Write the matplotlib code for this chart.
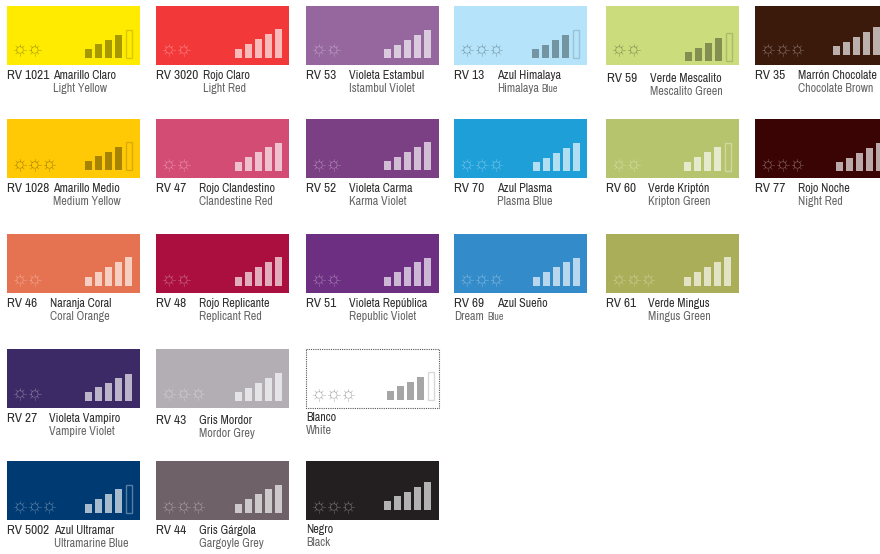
import matplotlib
matplotlib.use("Agg")
import matplotlib.pyplot as plt
from matplotlib import font_manager as fm
from matplotlib.patches import Circle, Rectangle

# data, in reading order (row by row)
codes = ["RV 1021", "RV 3020", "RV 53", "RV 13", "RV 59", "RV 35",
         "RV 1028", "RV 47", "RV 52", "RV 70", "RV 60", "RV 77",
         "RV 46", "RV 48", "RV 51", "RV 69", "RV 61",
         "RV 27", "RV 43", "",
         "RV 5002", "RV 44", ""]
names_es = ["Amarillo Claro", "Rojo Claro", "Violeta Estambul", "Azul Himalaya", "Verde Mescalito", "Marrón Chocolate",
            "Amarillo Medio", "Rojo Clandestino", "Violeta Carma", "Azul Plasma", "Verde Kriptón", "Rojo Noche",
            "Naranja Coral", "Rojo Replicante", "Violeta República", "Azul Sueño", "Verde Mingus",
            "Violeta Vampiro", "Gris Mordor", "Blanco",
            "Azul Ultramar", "Gris Gárgola", "Negro"]
names_en = ["Light Yellow", "Light Red", "Istambul Violet", "Himalaya", "Mescalito Green", "Chocolate Brown",
            "Medium Yellow", "Clandestine Red", "Karma Violet", "Plasma Blue", "Kripton Green", "Night Red",
            "Coral Orange", "Replicant Red", "Republic Violet", "Dream", "Mingus Green",
            "Vampire Violet", "Mordor Grey", "White",
            "Ultramarine Blue", "Gargoyle Grey", "Black"]
small_suffix = {"Himalaya": "Blue", "Dream": "Blue"}
sun_counts = [2, 2, 2, 3, 2, 3,
              3, 2, 2, 3, 2, 3,
              2, 2, 2, 3, 3,
              2, 3, 3,
              3, 3, 3]
bar_heights = [[9, 14, 18, 23, 28], [9, 14, 19, 24, 29], [9, 13, 18, 23, 28], [9, 13, 18, 23, 28], [9, 13, 18, 23, 28], [9, 13, 18, 23, 28],
               [9, 14, 18, 23, 28], [9, 14, 19, 24, 28], [9, 13, 18, 23, 28], [9, 13, 18, 23, 28], [9, 14, 19, 24, 28], [9, 13, 18, 23, 28],
               [9, 14, 19, 24, 29], [9, 14, 19, 24, 29], [9, 14, 19, 24, 28], [9, 14, 19, 24, 28], [9, 14, 19, 24, 29],
               [9, 14, 18, 23, 27], [9, 13, 18, 23, 28], [9, 14, 18, 23, 28],
               [9, 14, 19, 24, 28], [9, 14, 19, 24, 28], [9, 14, 18, 23, 28]]
last_bar_empty = [True, False, False, True, True, False,
                  True, False, False, False, True, False,
                  False, False, False, False, False,
                  False, False, True,
                  True, False, False]

# styles
fill_colors = ["#FFEB00", "#F23838", "#96669F", "#B5E4FA", "#CADC7C", "#3B1A0B",
               "#FFCA05", "#D34C74", "#7B3F83", "#1E9FD8", "#B7C46E", "#3A0404",
               "#E57250", "#AB0F40", "#6C2F82", "#338BCA", "#ABAE58",
               "#3C2A66", "#B3AEB4", "#FFFFFF",
               "#003A72", "#6E6268", "#231F20"]
dark_marks = [True, False, False, True, True, False,
              True, False, False, False, False, False,
              False, False, False, False, False,
              False, False, True,
              False, False, False]

# layout, pixels in the 880x554 picture
swatch_x = [7, 156, 306, 454, 606, 755,
            7, 156, 306, 454, 606, 755,
            7, 156, 306, 454, 606,
            7, 156, 306,
            7, 156, 306]
swatch_y = [6] * 6 + [119] * 6 + [234] * 5 + [349] * 3 + [461] * 3
bar_x = [85, 235, 384, 532, 685, 833,
         85, 235, 384, 533, 684, 836,
         85, 235, 384, 533, 684,
         85, 235, 387,
         85, 235, 384]
bar_base = [58, 58, 58, 58, 61, 55,
            170, 171, 170, 171, 171, 171,
            286, 286, 286, 286, 286,
            401, 401, 400,
            513, 513, 510]
sun_y = [50] * 6 + [165] * 6 + [280] * 5 + [394, 394, 395] + [507] * 3
code_x = [7, 156, 306, 454, 607, 755,
          7, 156, 306, 454, 606, 755,
          7, 156, 306, 454, 606,
          7, 156, 306,
          7, 156, 306]
name_x = [53, 203, 349, 497, 650, 798,
          53, 199, 349, 497, 648, 798,
          49.5, 199, 349, 497, 648,
          49, 199, 306,
          54, 199, 306]
en_x = list(name_x)
en_x[15] = 454.5
# text baselines
name_y = [79, 79, 79, 79, 82, 79,
          192, 192, 192, 192, 192, 192,
          307, 307, 307, 307, 307,
          422, 424, 421,
          534, 534, 533]
SWATCH_W = 133
SWATCH_H = 59

# Archivo Narrow is on this machine though not promised; fall back to smaller Liberation Sans
installed = {f.name for f in fm.fontManager.ttflist}
if "Archivo Narrow" in installed:
    TEXT_FONT = ["Archivo Narrow", "Liberation Sans", "DejaVu Sans"]
    CODE_SIZE, NAME_SIZE, EN_SIZE, SUFFIX_SIZE = 9.6, 8.7, 8.7, 7.2
else:
    TEXT_FONT = ["Liberation Sans", "DejaVu Sans"]
    CODE_SIZE, NAME_SIZE, EN_SIZE, SUFFIX_SIZE = 7.8, 7.2, 7.2, 6.2


def draw_sun(ax, cx, cy, color, alpha):
    ax.add_patch(Circle((cx, cy), 3.3, fill=False, ec=color, lw=0.6, alpha=alpha))
    for dx, dy in [(1, 0), (-1, 0), (0, 1), (0, -1), (0.7, 0.7), (-0.7, 0.7), (0.7, -0.7), (-0.7, -0.7)]:
        ax.plot([cx + dx * 3.6, cx + dx * 5.8], [cy + dy * 3.6, cy + dy * 5.8],
                color=color, lw=0.5, alpha=alpha)


fig = plt.figure(figsize=(8.8, 5.54), dpi=100)
ax = fig.add_axes([0, 0, 1, 1])
ax.set_xlim(0, 880)
ax.set_ylim(554, 0)
ax.axis("off")

for i, code in enumerate(codes):
    x0 = swatch_x[i]
    y0 = swatch_y[i]
    if fill_colors[i] == "#FFFFFF":
        ax.add_patch(Rectangle((x0, y0), SWATCH_W, SWATCH_H, fc="white", ec="#555555", lw=0.8, ls=(0, (1, 1))))
    else:
        ax.add_patch(Rectangle((x0, y0), SWATCH_W, SWATCH_H, fc=fill_colors[i], ec="none"))

    tone = "black" if dark_marks[i] else "white"
    bar_alpha = 0.35 if dark_marks[i] else 0.66
    outline_alpha = 0.15 if dark_marks[i] else 0.35

    for j in range(sun_counts[i]):
        draw_sun(ax, x0 + 13 + 14.7 * j, sun_y[i], tone, 0.25 if dark_marks[i] else 0.28)

    for j, h in enumerate(bar_heights[i]):
        bx = bar_x[i] + 10 * j
        if j == 4 and last_bar_empty[i]:
            ax.add_patch(Rectangle((bx + 0.5, bar_base[i] - h), 6, h, fill=False, ec=tone, lw=1.0, alpha=outline_alpha))
        else:
            ax.bar(bx, h, width=7, bottom=bar_base[i] - h, align="edge", color=tone, alpha=bar_alpha, lw=0)

    if code:
        ax.text(code_x[i], name_y[i], code, family=TEXT_FONT, fontsize=CODE_SIZE, color="#2E2E2E", va="baseline", ha="left")
    ax.text(name_x[i], name_y[i], names_es[i], family=TEXT_FONT, fontsize=NAME_SIZE, color="#2E2E2E", va="baseline", ha="left")
    en = ax.text(en_x[i], name_y[i] + 13, names_en[i], family=TEXT_FONT, fontsize=EN_SIZE, color="#666666", va="baseline", ha="left")
    suffix = small_suffix.get(names_en[i])
    if suffix:
        # the small word sits on the same baseline, just after the English name
        right = ax.transData.inverted().transform((en.get_window_extent(fig.canvas.get_renderer()).x1, 0))[0]
        ax.text(right + 3, name_y[i] + 13, suffix, family=TEXT_FONT, fontsize=SUFFIX_SIZE, color="#666666", va="baseline", ha="left")

fig.savefig("out.png", dpi=100)
plt.close(fig)
